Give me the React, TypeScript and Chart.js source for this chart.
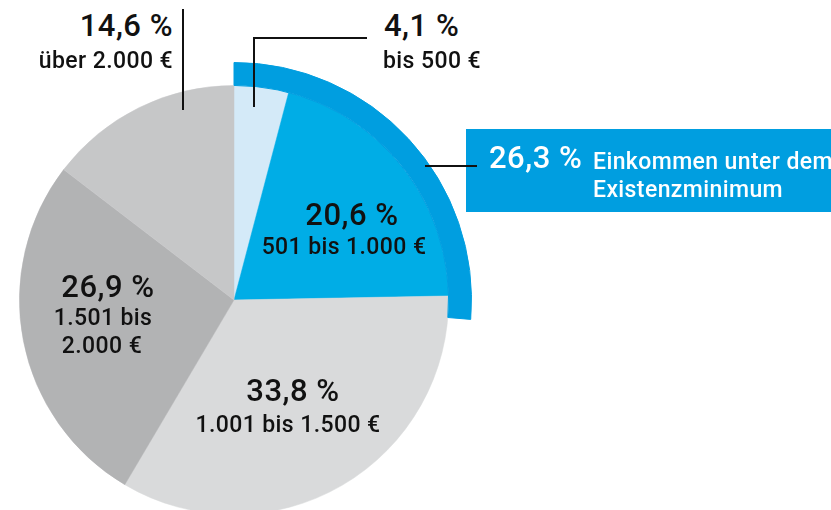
import React, { useEffect, useRef } from "react";
import { Chart, registerables } from "chart.js";

Chart.register(...registerables);

// ---- data ----
const categories = ["bis 500 €", "501 bis 1.000 €", "1.001 bis 1.500 €", "1.501 bis 2.000 €", "über 2.000 €"];
const shares = [4.1, 20.6, 33.8, 26.9, 14.6];
const sliceColors = ["#d4eaf8", "#00ade6", "#d9dadb", "#b2b3b4", "#c6c7c8"];
const povertyShare = [26.3, 73.7];
const povertyLabel = ["Einkommen unter dem", "Existenzminimum"];
const ringColors = ["#009ee0", "rgba(0,0,0,0)"];

const fmt = (v: number) => v.toFixed(1).replace(".", ",") + " %";

const FONT = "Roboto, 'DejaVu Sans', sans-serif";
const TXT = "#111111";

type LabelProps = {
  text: string;
  size: number;
  baseline: number;
  x: number;
  align: "left" | "right" | "center";
  color?: string;
};

function Label({ text, size, baseline, x, align, color }: LabelProps) {
  const top = baseline - 0.8415 * size;
  const style: React.CSSProperties = {
    position: "absolute",
    top,
    fontFamily: FONT,
    fontWeight: 500,
    fontSize: size,
    letterSpacing: size > 26 ? "0.5px" : "0.4px",
    lineHeight: `${size}px`,
    color: color || TXT,
    whiteSpace: "nowrap",
  };
  if (align === "left") style.left = x;
  else if (align === "right") {
    style.right = 831 - x;
    style.textAlign = "right";
  } else {
    style.left = x - 200;
    style.width = 400;
    style.textAlign = "center";
  }
  return <div style={style}>{text}</div>;
}

function Line({ x1, y1, x2, y2 }: { x1: number; y1: number; x2: number; y2: number }) {
  const w = 2.5;
  const style: React.CSSProperties = {
    position: "absolute",
    background: "#111",
    left: Math.min(x1, x2) - (x1 === x2 ? w / 2 : 0),
    top: Math.min(y1, y2) - (y1 === y2 ? w / 2 : 0),
    width: x1 === x2 ? w : Math.abs(x2 - x1),
    height: y1 === y2 ? w : Math.abs(y2 - y1),
  };
  return <div style={style} />;
}

export default function App() {
  const ref = useRef<HTMLCanvasElement | null>(null);

  useEffect(() => {
    if (!ref.current) return;
    const chart = new Chart(ref.current, {
      type: "doughnut",
      data: {
        labels: categories,
        datasets: [
          {
            data: povertyShare,
            backgroundColor: ringColors,
            borderColor: ringColors,
            borderWidth: 1,
            weight: 23,
          } as any,
          {
            data: shares,
            backgroundColor: sliceColors,
            borderColor: sliceColors,
            borderWidth: 0.5,
            weight: 215,
          } as any,
        ],
      },
      options: {
        responsive: false,
        devicePixelRatio: 1,
        animation: false,
        cutout: 0,
        rotation: 0,
        layout: { padding: 0 },
        events: [],
        plugins: {
          legend: { display: false },
          tooltip: { enabled: false },
        },
      } as any,
    });
    return () => chart.destroy();
  }, []);

  return (
    <div
      style={{
        position: "fixed",
        left: 0,
        top: 0,
        width: 831,
        height: 510,
        overflow: "hidden",
        background: "#fff",
      }}
    >
      <canvas
        ref={ref}
        width={476}
        height={476}
        style={{ position: "absolute", left: 234 - 238, top: 300 - 238, width: 476, height: 476 }}
      />

      {/* über 2.000 € */}
      <Label text={fmt(shares[4])} size={31} baseline={36} x={173} align="right" />
      <Label text={categories[4]} size={23} baseline={68} x={173} align="right" />
      <Line x1={183} y1={9} x2={183} y2={110} />

      {/* bis 500 € */}
      <Label text={fmt(shares[0])} size={31} baseline={36} x={384} align="left" />
      <Label text={categories[0]} size={23} baseline={68} x={383} align="left" />
      <Line x1={253} y1={38} x2={367} y2={38} />
      <Line x1={254} y1={38} x2={254} y2={107} />

      {/* 501 bis 1.000 € */}
      <Label text={fmt(shares[1])} size={31} baseline={225} x={352} align="center" />
      <Label text={categories[1]} size={23} baseline={254} x={344} align="center" />

      {/* 1.501 bis 2.000 € */}
      <Label text={fmt(shares[3])} size={31} baseline={297} x={108} align="center" />
      <Label text="1.501 bis" size={23} baseline={325} x={103} align="center" />
      <Label text="2.000 €" size={23} baseline={353} x={102} align="center" />

      {/* 1.001 bis 1.500 € */}
      <Label text={fmt(shares[2])} size={31} baseline={401} x={293} align="center" />
      <Label text={categories[2]} size={23} baseline={432} x={288} align="center" />

      {/* Existenzminimum box */}
      <div style={{ position: "absolute", left: 466, top: 129, width: 400, height: 83, background: "#009ee0" }} />
      <Label text={fmt(povertyShare[0])} size={31} baseline={168} x={489} align="left" color="#fff" />
      <Label text={povertyLabel[0]} size={23} baseline={169} x={593} align="left" color="#fff" />
      <Label text={povertyLabel[1]} size={23} baseline={197} x={593} align="left" color="#fff" />
      <Line x1={425} y1={166} x2={477} y2={166} />
    </div>
  );
}
